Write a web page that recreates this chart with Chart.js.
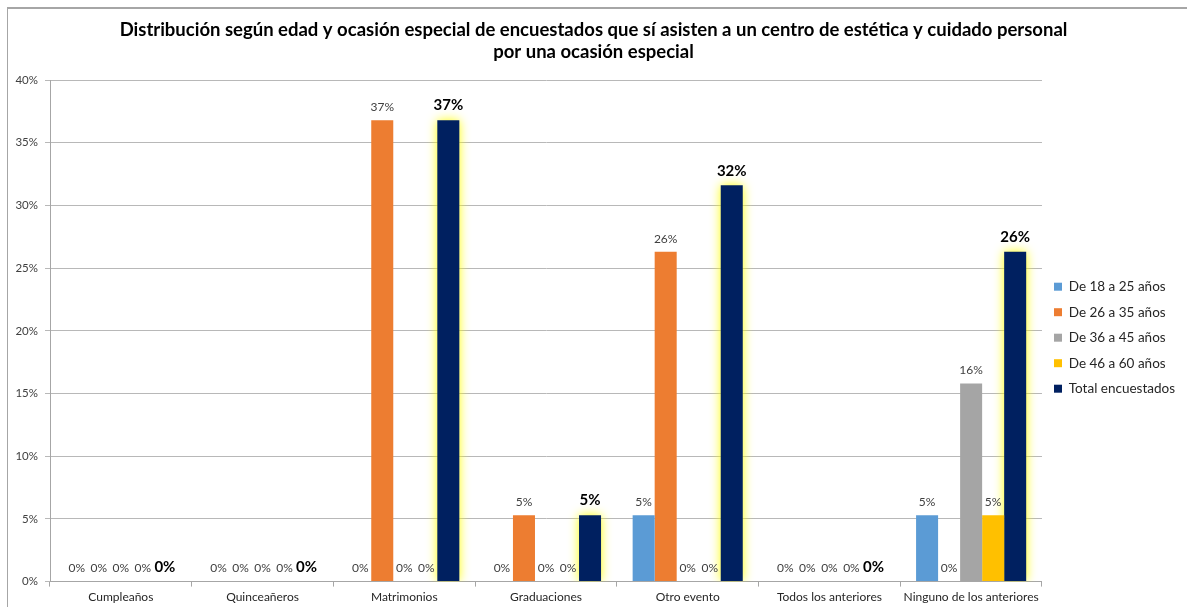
<!DOCTYPE html>
<html>
<head>
<meta charset="utf-8">
<script src="https://cdn.jsdelivr.net/npm/chart.js@4.4.1/dist/chart.umd.min.js"></script>
<style>
  html, body { margin: 0; padding: 0; background: #fff; }
  #wrap { position: relative; width: 1187px; height: 607px; }
  #frame { position: absolute; left: 7px; top: 7px; width: 1200px; height: 620px;
           border-top: 2px solid #a6a6a6; border-left: 1px solid #a6a6a6; }
  canvas { position: absolute; left: 0; top: 0; }
</style>
</head>
<body>
<div id="wrap">
  <div id="frame"></div>
  <canvas id="chart" width="1187" height="607"></canvas>
</div>
<script>
const OCASIONES = [`Cumpleaños`, `Quinceañeros`, `Matrimonios`, `Graduaciones`, `Otro evento`, `Todos los anteriores`, `Ninguno de los anteriores`];

const DE_18_25 = [0, 0, 0, 0, 5.3, 0, 5.3];
const DE_26_35 = [0, 0, 36.8, 5.3, 26.3, 0, 0];
const DE_36_45 = [0, 0, 0, 0, 0, 0, 15.8];
const DE_46_60 = [0, 0, 0, 0, 0, 0, 5.3];
const TOTAL = [0, 0, 36.8, 5.3, 31.6, 0, 26.3];

const C_BLUE = `#5b9bd5`;
const C_ORANGE = `#ed7d31`;
const C_GREY = `#a5a5a5`;
const C_YELLOW = `#ffc000`;
const C_NAVY = `#002060`;

const FONT = `Lato, "Open Sans", sans-serif`;

// yellow glow behind the total bars
const glowPlugin = {
  id: `glow`,
  beforeDatasetDraw(chart, args) {
    if (args.index !== 4) return;
    const ctx = chart.ctx;
    ctx.save();
    ctx.shadowColor = `rgba(255, 255, 0, 1)`;
    ctx.shadowBlur = 11;
  },
  afterDatasetDraw(chart, args) {
    if (args.index !== 4) return;
    chart.ctx.restore();
  },
};

// value labels on top of every bar
const valueLabels = {
  id: `valueLabels`,
  afterDatasetsDraw(chart) {
    const ctx = chart.ctx;
    ctx.save();
    ctx.textAlign = `center`;
    ctx.textBaseline = `bottom`;
    chart.data.datasets.forEach((ds, di) => {
      const meta = chart.getDatasetMeta(di);
      const isTotal = di === 4;
      ctx.font = isTotal ? `bold 15px ${FONT}` : `12px ${FONT}`;
      ctx.fillStyle = isTotal ? `#000000` : `#404040`;
      meta.data.forEach((bar, i) => {
        ctx.fillText(Math.round(ds.data[i]) + `%`, bar.x, bar.y - 7);
      });
    });
    ctx.restore();
  },
};

let ctx = document.getElementById(`chart`).getContext(`2d`);
let occasionChart = new Chart(ctx,
{
  type: `bar`,
  data: {
    labels: OCASIONES,
    datasets: [
      { label: `De 18 a 25 años`, data: DE_18_25, backgroundColor: C_BLUE },
      { label: `De 26 a 35 años`, data: DE_26_35, backgroundColor: C_ORANGE },
      { label: `De 36 a 45 años`, data: DE_36_45, backgroundColor: C_GREY },
      { label: `De 46 a 60 años`, data: DE_46_60, backgroundColor: C_YELLOW },
      { label: `Total encuestados`, data: TOTAL, backgroundColor: C_NAVY },
    ],
  },
  options: {
    responsive: false,
    animation: false,
    layout: { padding: { left: 2, right: 2, top: 10, bottom: 0 } },
    datasets: { bar: { categoryPercentage: 0.777, barPercentage: 1.0 } },
    scales: {
      x: {
        grid: { display: true, drawOnChartArea: false, drawTicks: true, tickLength: 5, color: `#a6a6a6`, offset: true },
        border: { color: `#a6a6a6` },
        ticks: { font: { family: FONT, size: 12 }, color: `#262626`, padding: 3 },
      },
      y: {
        min: 0,
        max: 40,
        afterFit: (scale) => { scale.width = 48; },
        grid: { color: `#b8b8b8`, tickLength: 5 },
        border: { color: `#a6a6a6` },
        ticks: {
          stepSize: 5,
          font: { family: FONT, size: 11.5 },
          color: `#404040`,
          padding: 7,
          callback: (v) => v + `%`,
        },
      },
    },
    plugins: {
      title: {
        display: true,
        text: [`Distribución según edad y ocasión especial de encuestados que sí asisten a un centro de estética y cuidado personal`, `por una ocasión especial`],
        font: { family: FONT, size: 18.5, weight: `bold`, lineHeight: `22px` },
        color: `#000000`,
        padding: { top: 9, bottom: 17 },
      },
      legend: {
        position: `right`,
        // blank title only pushes the items down a little
        title: { display: true, text: ` `, font: { size: 12 }, padding: { top: 44, bottom: 0 } },
        labels: {
          boxWidth: 8,
          boxHeight: 8,
          padding: 12,
          font: { family: FONT, size: 13.5 },
          color: `#262626`,
        },
      },
      tooltip: { enabled: false },
    },
  },
  plugins: [glowPlugin, valueLabels],
});
</script>
</body>
</html>
